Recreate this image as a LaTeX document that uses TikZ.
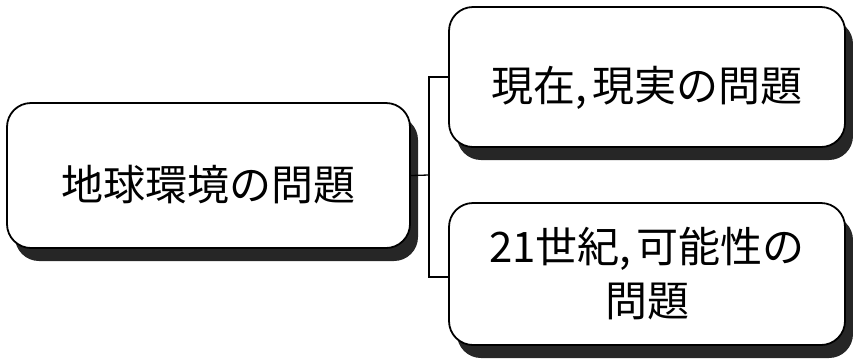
\documentclass[tikz,border=0pt]{standalone}
\usepackage{fontspec}
\newfontfamily\jp{Noto Sans CJK JP}
\usetikzlibrary{shadows}
\begin{document}
\begin{tikzpicture}[x=1pt,y=-1pt,
  box/.style={draw=black, line width=1.8pt, rounded corners=24pt, fill=white,
    font=\jp\fontsize{42}{54}\selectfont, align=center, inner sep=0pt,
    drop shadow={shadow xshift=8pt, shadow yshift=-13pt, fill=black!85, opacity=1}},
  conn/.style={draw=black, line width=1.3pt}]
\useasboundingbox (0,0) rectangle (853,360);
\node[box, minimum width=403pt, minimum height=145pt, text height=54pt, text depth=5pt] (L) at (208.5,175.5) {地球環境の問題};
\node[box, minimum width=396pt, minimum height=140pt, text height=54pt, text depth=5pt] (T) at (647,77) {現在,\hspace{5pt}現実の問題};
\node[box, minimum width=396pt, minimum height=142pt] (B) at (647,274) {21世紀,\hspace{5pt}可能性の\\問題};
\coordinate (J) at (429,175);
\draw[conn] (L.east) -- (J);
\draw[conn] (T.west) -| (J);
\draw[conn] ([yshift=-3pt]B.west) -| (J);
\end{tikzpicture}
\end{document}
